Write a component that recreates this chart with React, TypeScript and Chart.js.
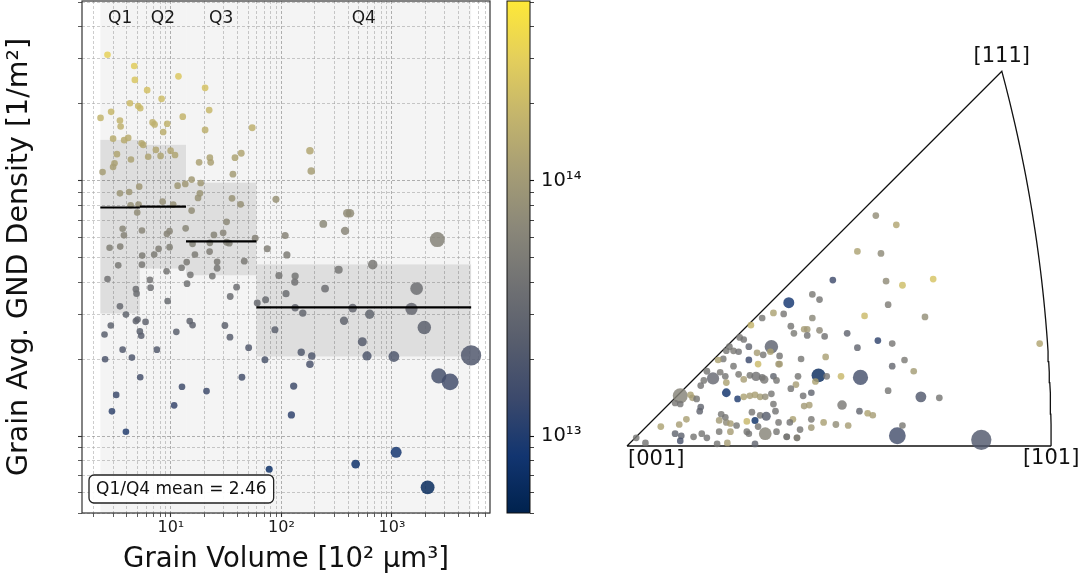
import React, { useEffect, useRef } from "react";
import { Chart, registerables } from "chart.js";

Chart.register(...registerables);

const FONT = "'DejaVu Sans', 'Liberation Sans', sans-serif";

// ---------------- data: grain volume (10^2 um^3) vs grain GND density (1/m^2) ----------------
const grainVolume = [
  2.67, 4.66, 4.72, 6.1, 8.24, 11.7, 20.4, 22.2, 20.4, 54.4,
  4.26, 5.06, 5.28, 2.31, 2.88, 3.46, 3.51, 6.83, 7.12, 9.26,
  8.52, 12.8, 3.0, 3.78, 4.11, 5.43, 5.62, 7.32, 9.94, 10.9,
  3.25, 4.35, 6.23, 8.07, 3.09, 3.0, 2.41, 18.0, 22.5, 22.9,
  38.0, 43.3, 36.4, 15.4, 18.6, 11.5, 13.5, 5.17, 3.46, 4.19,
  18.3, 17.6, 35.7, 42.7, 89.2, 4.32, 5.1, 8.41, 10.5, 4.96,
  15.4, 31.9, 3.66, 3.76, 5.47, 9.2, 9.73, 13.6, 24.5, 29.7,
  2.79, 3.48, 7.74, 9.73, 15.7, 22.5, 31.9, 33.7, 57.9, 74.4,
  46.1, 5.5, 7.06, 16.5, 22.4, 26.2, 26.2, 23.7, 15.0, 13.9,
  12.5, 9.14, 6.46, 4.82, 6.55, 14.0, 2.67, 3.34, 5.47, 39.3,
  181, 186, 394, 417, 239, 376, 108, 2570, 112, 669,
  329, 94.9, 133, 132, 248, 1670, 4.89, 9.34, 34.4, 60.4,
  71.9, 110, 133, 156, 441, 628, 368, 1500, 1960, 87.3,
  539, 151, 188, 594, 1040, 5190, 70.9, 181, 2650, 3350,
  129, 123, 1090, 469, 77.5, 2100, 3.46, 3.92, 4.82, 4.99,
  5.9, 2.86, 2.51, 5.24, 5.39, 11.2, 14.8, 15.7, 30.8, 34.2,
  3.66, 4.44, 7.47, 50.5, 2.54, 5.28, 12.6, 21.0, 43.9, 3.2,
  10.7, 2.93, 3.92,
];
const grainDensity = [
  3.11e14, 2.81e14, 2.48e14, 2.26e14, 2.09e14, 2.56e14, 2.31e14, 1.89e14, 1.58e14, 1.61e14,
  2.01e14, 1.96e14, 1.92e14, 1.76e14, 1.86e14, 1.72e14, 1.63e14, 1.69e14, 1.66e14, 1.67e14,
  1.55e14, 1.78e14, 1.46e14, 1.44e14, 1.47e14, 1.4e14, 1.38e14, 1.32e14, 1.31e14, 1.26e14,
  1.27e14, 1.21e14, 1.24e14, 1.25e14, 1.17e14, 1.13e14, 1.08e14, 1.18e14, 1.23e14, 1.18e14,
  1.23e14, 1.28e14, 1.06e14, 1.01e14, 9.79e13, 9.56e13, 9.71e13, 9.47e13, 8.92e13, 9.03e13,
  8.92e13, 8.56e13, 8.53e13, 8.08e13, 8.45e13, 8.01e13, 8.06e13, 8.28e13, 8.06e13, 7.5e13,
  7.64e13, 6.9e13, 6.48e13, 6.11e13, 6.38e13, 6.19e13, 6.34e13, 6.51e13, 6.13e13, 6.25e13,
  5.46e13, 5.52e13, 5.41e13, 5.49e13, 5.66e13, 5.71e13, 5.74e13, 5.69e13, 5.95e13, 5.41e13,
  4.84e13, 5.09e13, 5.14e13, 5.14e13, 5.28e13, 4.81e13, 4.54e13, 4.23e13, 4.28e13, 4.8e13,
  4.56e13, 4.42e13, 4.09e13, 3.76e13, 3.81e13, 3.95e13, 4.12e13, 4.66e13, 4.69e13, 3.83e13,
  1.31e14, 1.09e14, 7.45e13, 7.45e13, 6.77e13, 6.36e13, 6.1e13, 5.88e13, 5.12e13, 4.69e13,
  4.48e13, 4.25e13, 4.23e13, 4.01e13, 3.78e13, 3.78e13, 3.61e13, 3.38e13, 3.52e13, 3.32e13,
  3.42e13, 3.61e13, 3.18e13, 3.03e13, 3.17e13, 3.0e13, 2.83e13, 3.15e13, 2.66e13, 2.61e13,
  2.34e13, 2.13e13, 2.06e13, 2.06e13, 2.05e13, 2.07e13, 1.99e13, 1.91e13, 1.72e13, 1.63e13,
  1.57e13, 1.21e13, 8.64e12, 7.77e12, 7.41e12, 6.3e12, 3.22e13, 2.99e13, 2.82e13, 2.86e13,
  2.8e13, 2.71e13, 2.5e13, 2.57e13, 2.47e13, 2.56e13, 2.82e13, 2.72e13, 2.71e13, 2.44e13,
  2.18e13, 2.03e13, 2.18e13, 2.22e13, 2.0e13, 1.7e13, 1.56e13, 1.5e13, 1.7e13, 1.45e13,
  1.32e13, 1.25e13, 1.04e13,
];

// quartiles of grain volume
const quartileNames = ["Q1", "Q2", "Q3", "Q4"];
const quartileEdges = [2.3, 5.24, 13.7, 59.4, 5200];
const quartileMean = [7.85e13, 7.91e13, 5.78e13, 3.19e13];
const quartileLow = [3.02e13, 4.53e13, 4.26e13, 2.05e13];
const quartileHigh = [1.445e14, 1.382e14, 9.82e13, 4.7e13];

// axes
const volumeRange = [1.57, 7700];
const densityRange = [5e12, 5.05e14];
const volumeTickValues = [10, 100, 1000];
const volumeTickLabels = ["10¹", "10²", "10³"];
const colorbarTickValues = [1e13, 1e14];
const colorbarTickLabels = ["10¹³", "10¹⁴"];

// ---------------- inverse pole figure (stereographic coordinates) ----------------
const ipfX = [
  0.243, 0.263, 0.225, 0.248, 0.201, 0.253, 0.269, 0.299, 0.181, 0.188,
  0.158, 0.255, 0.232, 0.291, 0.181, 0.153, 0.16, 0.163, 0.173, 0.176,
  0.176, 0.188, 0.193, 0.215, 0.245, 0.259, 0.225, 0.403, 0.17, 0.194,
  0.271, 0.259, 0.28, 0.149, 0.167, 0.187, 0.195, 0.209, 0.228, 0.184,
  0.165, 0.16, 0.18, 0.172, 0.255, 0.287, 0.305, 0.21, 0.173, 0.178,
  0.227, 0.235, 0.24, 0.162, 0.18, 0.192, 0.204, 0.216, 0.159, 0.169,
  0.18, 0.264, 0.269, 0.346, 0.156, 0.166, 0.143, 0.132, 0.121, 0.11,
  0.114, 0.141, 0.14, 0.1, 0.104, 0.109, 0.119, 0.097, 0.127, 0.133,
  0.149, 0.094, 0.089, 0.119, 0.128, 0.148, 0.078, 0.084, 0.091, 0.096,
  0.104, 0.109, 0.114, 0.097, 0.12, 0.126, 0.132, 0.134, 0.143, 0.146,
  0.075, 0.072, 0.097, 0.108, 0.114, 0.12, 0.125, 0.13, 0.135, 0.141,
  0.052, 0.062, 0.064, 0.068, 0.047, 0.052, 0.072, 0.071, 0.092, 0.096,
  0.122, 0.13, 0.136, 0.143, 0.145, 0.058, 0.033, 0.051, 0.09, 0.097,
  0.101, 0.107, 0.117, 0.125, 0.128, 0.148, 0.047, 0.053, 0.052, 0.065,
  0.073, 0.078, 0.09, 0.101, 0.117, 0.119, 0.135, 0.146, 0.156, 0.166,
  0.009, 0.018, 0.088, 0.098, 0.125,
];
const ipfY = [
  0.225, 0.216, 0.19, 0.188, 0.162, 0.161, 0.157, 0.163, 0.148, 0.143,
  0.14, 0.138, 0.127, 0.126, 0.125, 0.129, 0.117, 0.11, 0.114, 0.114,
  0.108, 0.113, 0.107, 0.11, 0.103, 0.1, 0.096, 0.1, 0.085, 0.087,
  0.084, 0.078, 0.073, 0.08, 0.068, 0.069, 0.068, 0.068, 0.067, 0.063,
  0.06, 0.056, 0.052, 0.049, 0.054, 0.048, 0.047, 0.04, 0.039, 0.04,
  0.034, 0.032, 0.03, 0.026, 0.026, 0.023, 0.021, 0.02, 0.023, 0.016,
  0.018, 0.01, 0.02, 0.006, 0.009, 0.008, 0.13, 0.125, 0.118, 0.106,
  0.104, 0.097, 0.092, 0.097, 0.093, 0.092, 0.097, 0.093, 0.091, 0.089,
  0.088, 0.085, 0.084, 0.084, 0.08, 0.08, 0.073, 0.066, 0.072, 0.068,
  0.078, 0.07, 0.065, 0.062, 0.069, 0.068, 0.067, 0.065, 0.068, 0.064,
  0.064, 0.059, 0.052, 0.046, 0.048, 0.049, 0.05, 0.048, 0.048, 0.051,
  0.049, 0.05, 0.047, 0.046, 0.042, 0.041, 0.038, 0.034, 0.031, 0.028,
  0.033, 0.03, 0.029, 0.041, 0.034, 0.026, 0.019, 0.021, 0.025, 0.023,
  0.022, 0.02, 0.024, 0.025, 0.019, 0.023, 0.012, 0.01, 0.005, 0.009,
  0.012, 0.008, 0.014, 0.014, 0.014, 0.012, 0.012, 0.014, 0.009, 0.008,
  0.008, 0.003, 0.002, 0.003, 0.002,
];
const ipfDensity = [
  7.5e13, 1.3e14, 1.2e14, 7.0e13, 1.5e13, 7.2e13, 2.1e14, 2.4e14, 4.8e13, 4.3e13,
  8.6e12, 5.2e13, 2.0e14, 7.8e13, 6.5e13, 4.6e13, 4.4e13, 5.0e13, 1.1e14, 1.0e14,
  4.2e13, 6.8e13, 4.0e13, 2.8e13, 1.2e13, 4.6e13, 3.0e13, 1.3e14, 4.5e13, 1.15e14,
  4.9e13, 3.2e13, 1.05e14, 1.1e14, 4.4e13, 6.3e12, 4.6e13, 1.9e14, 1.72e13, 1.2e14,
  1.1e14, 4.3e13, 2.9e13, 4.1e13, 4.5e13, 2.05e13, 4.4e13, 4.69e13, 1.0e14, 1.1e14,
  3.0e13, 1.25e14, 1.1e14, 1.2e14, 4.7e13, 1.15e14, 7.4e13, 1.1e14, 4.2e13, 4.4e13,
  9.5e13, 1.63e13, 4.8e13, 2.07e13, 4.5e13, 1.0e14, 1.2e14, 4.5e13, 1.8e14, 4.6e13,
  4.2e13, 2.66e13, 1.2e14, 4.4e13, 4.8e13, 4.1e13, 3.0e13, 4.5e13, 1.1e14, 4.6e13,
  4.3e13, 4.5e13, 1.2e14, 1.4e13, 2.0e14, 1.0e14, 4.4e13, 3.15e13, 4.7e13, 4.3e13,
  4.5e13, 4.8e13, 1.1e14, 1.2e14, 4.4e13, 4.0e13, 4.2e13, 4.6e13, 2.9e13, 4.4e13,
  4.5e13, 4.2e13, 7.77e12, 1.0e13, 1.2e14, 1.1e14, 1.15e14, 1.05e14, 7.5e13, 4.5e13,
  5.88e13, 1.2e14, 1.1e14, 4.4e13, 4.6e13, 4.2e13, 3.0e13, 2.8e13, 4.5e13, 4.3e13,
  4.6e13, 4.4e13, 2.34e13, 4.5e13, 4.2e13, 1.15e14, 1.2e14, 1.1e14, 1.0e14, 7.0e13,
  1.1e14, 4.5e13, 1.9e14, 7.41e12, 4.4e13, 4.6e13, 2.9e13, 2.7e13, 1.8e13, 4.4e13,
  4.5e13, 4.2e13, 4.7e13, 1.1e14, 4.4e13, 4.3e13, 6.0e13, 4.5e13, 4.4e13, 4.6e13,
  4.5e13, 4.3e13, 4.5e13, 1.1e14, 3.0e13,
];
const ipfVolume = [
  8, 12, 5, 20, 15, 6, 30, 9, 4, 14,
  1090, 11, 6, 18, 14, 7, 25, 10, 5, 13,
  9, 12, 4, 22, 16, 6, 28, 9, 5, 15,
  7, 11, 6, 19, 13, 2100, 27, 8, 2650, 12,
  9, 13, 5, 21, 16, 1040, 29, 669, 4, 15,
  8, 12, 6, 20, 14, 7, 26, 9, 5, 13,
  8, 3350, 5, 5190, 15, 6, 31, 10, 4, 14,
  9, 1960, 5, 19, 16, 6, 28, 9, 5, 14,
  8, 12, 6, 21, 15, 7, 30, 1500, 4, 13,
  8, 11, 5, 20, 15, 628, 29, 400, 5, 14,
  9, 12, 469, 19, 14, 6, 30, 10, 4, 15,
  2570, 12, 5, 20, 16, 7, 27, 9, 5, 14,
  8, 13, 539, 20, 15, 6, 30, 9, 4, 13,
  9, 12, 5, 77.5, 15, 7, 28, 10, 5, 14,
  8, 11, 6, 20, 15, 6, 1670, 9, 4, 14,
  8, 12, 5, 20, 15,
];
const ipfCornerNames = ["[001]", "[101]", "[111]"];
const ipfCornerX = [0, 0.4142, 0.366];
const ipfCornerY = [0, 0, 0.366];
const ipfRangeX = [-0.02637, 0.44238];
const ipfRangeY = [-0.12598, 0.43555];

// ---------------- styling helpers ----------------
const CIVIDIS = ["#00224e", "#123570", "#3b496c", "#575d6d", "#707173", "#8a8779", "#a69d75", "#c4b56c", "#e4cf5b", "#fee838"];

function hexRgb(h: string): number[] {
  return [parseInt(h.slice(1, 3), 16), parseInt(h.slice(3, 5), 16), parseInt(h.slice(5, 7), 16)];
}
function cividis(t: number): number[] {
  const tt = Math.max(0, Math.min(1, t));
  const n = CIVIDIS.length - 1;
  const p = tt * n;
  const i = Math.min(Math.floor(p), n - 1);
  const f = p - i;
  const a = hexRgb(CIVIDIS[i]);
  const b = hexRgb(CIVIDIS[i + 1]);
  return [0, 1, 2].map((k) => Math.round(a[k] + (b[k] - a[k]) * f));
}
function densityColor(v: number, alpha: number): string {
  const lo = Math.log10(densityRange[0]);
  const hi = Math.log10(densityRange[1]);
  const [r, g, b] = cividis((Math.log10(v) - lo) / (hi - lo));
  return `rgba(${r},${g},${b},${alpha})`;
}
function markerRadius(volume: number): number {
  return Math.sqrt(11 + 0.0177 * volume);
}
function isDecade(v: number): boolean {
  const l = Math.log10(v);
  return Math.abs(l - Math.round(l)) < 1e-6;
}
function logGridValues(min: number, max: number): number[] {
  const out: number[] = [];
  for (let e = Math.floor(Math.log10(min)); e <= Math.ceil(Math.log10(max)); e++) {
    for (let m = 1; m <= 9; m++) {
      const v = m * Math.pow(10, e);
      if (v >= min * 0.9999 && v <= max * 1.0001) out.push(v);
    }
  }
  return out;
}
function labelFor(values: number[], labels: string[], v: number): string {
  const i = values.findIndex((m) => Math.abs(m - v) < 1e-6 * m);
  return i >= 0 ? labels[i] : "";
}
function ipfBoundary() {
  // [001] -> [101] -> great circle (1,t,1) -> [111] -> [001]
  const pts = [{ x: 0, y: 0 }];
  for (let i = 0; i <= 40; i++) {
    const t = i / 40;
    const n = Math.sqrt(2 + t * t);
    pts.push({ x: 1 / (n + 1), y: t / (n + 1) });
  }
  pts.push({ x: 0, y: 0 });
  return pts;
}
function noPadding(axis: any) {
  axis.paddingTop = 0;
  axis.paddingBottom = 0;
  axis.paddingLeft = 0;
  axis.paddingRight = 0;
}

const gridStyle = {
  color: (c: any) => (c.tick && isDecade(c.tick.value) ? "rgba(140,140,140,0.8)" : "rgba(165,165,165,0.7)"),
  lineWidth: 0.8,
  drawTicks: true,
  tickLength: 4,
  tickColor: "#333",
  tickWidth: (c: any) => (c.tick && isDecade(c.tick.value) ? 1.1 : 0.8),
  tickBorderDash: [],
};

// ---------------- charts ----------------
function makeScatter(canvas: HTMLCanvasElement): Chart {
  const boxes = {
    id: "quartileBoxes",
    beforeDatasetsDraw(chart: any) {
      const { ctx, chartArea, scales } = chart;
      const x = scales.x;
      const y = scales.y;
      ctx.save();
      ctx.beginPath();
      ctx.rect(chartArea.left, chartArea.top, chartArea.width, chartArea.height);
      ctx.clip();
      for (let i = 0; i < quartileNames.length; i++) {
        const x0 = x.getPixelForValue(quartileEdges[i]);
        const x1 = x.getPixelForValue(quartileEdges[i + 1]);
        ctx.fillStyle = "rgba(0,0,0,0.045)";
        ctx.fillRect(x0, chartArea.top, x1 - x0, chartArea.height);
        const y0 = y.getPixelForValue(quartileHigh[i]);
        const y1 = y.getPixelForValue(quartileLow[i]);
        ctx.fillStyle = "rgba(0,0,0,0.095)";
        ctx.fillRect(x0, y0, x1 - x0, y1 - y0);
      }
      ctx.restore();
    },
    afterDraw(chart: any) {
      const { ctx, chartArea, scales } = chart;
      const x = scales.x;
      ctx.save();
      ctx.font = `17px ${FONT}`;
      ctx.fillStyle = "#1a1a1a";
      ctx.textAlign = "center";
      ctx.textBaseline = "middle";
      for (let i = 0; i < quartileNames.length; i++) {
        const xc = x.getPixelForValue(Math.sqrt(quartileEdges[i] * quartileEdges[i + 1]));
        ctx.fillText(quartileNames[i], xc, chartArea.top + 18);
      }
      const text = `Q1/Q4 mean = ${(quartileMean[0] / quartileMean[3]).toFixed(2)}`;
      const tw = ctx.measureText(text).width;
      const bx = chartArea.left + 7;
      const by = chartArea.bottom - 38;
      const bw = tw + 14;
      const bh = 28;
      ctx.beginPath();
      if ((ctx as any).roundRect) (ctx as any).roundRect(bx, by, bw, bh, 5);
      else ctx.rect(bx, by, bw, bh);
      ctx.fillStyle = "rgba(255,255,255,0.92)";
      ctx.fill();
      ctx.lineWidth = 1.3;
      ctx.strokeStyle = "#222";
      ctx.stroke();
      ctx.fillStyle = "#111";
      ctx.textAlign = "left";
      ctx.fillText(text, bx + 7, by + bh / 2 + 1);
      ctx.lineWidth = 1.2;
      ctx.strokeStyle = "#333";
      ctx.strokeRect(chartArea.left, chartArea.top, chartArea.width, chartArea.height);
      ctx.restore();
    },
  };

  const meanLines = quartileNames.map((_, i) => ({
    type: "scatter" as const,
    data: [
      { x: quartileEdges[i], y: quartileMean[i] },
      { x: quartileEdges[i + 1], y: quartileMean[i] },
    ],
    showLine: true,
    borderColor: "#000",
    borderWidth: 2.2,
    pointRadius: 0,
    order: 0,
  }));

  return new Chart(canvas, {
    type: "scatter",
    data: {
      datasets: [
        ...meanLines,
        {
          data: grainVolume.map((v, i) => ({ x: v, y: grainDensity[i] })),
          pointRadius: (c: any) => markerRadius(grainVolume[c.dataIndex] ?? 1),
          pointHoverRadius: (c: any) => markerRadius(grainVolume[c.dataIndex] ?? 1),
          pointBackgroundColor: (c: any) => densityColor(grainDensity[c.dataIndex] ?? 1e13, 0.85),
          pointBorderWidth: 0,
          pointBorderColor: "rgba(0,0,0,0)",
          order: 1,
        },
      ] as any,
    },
    options: {
      responsive: false,
      animation: false,
      events: [],
      layout: { autoPadding: false, padding: { left: 0, right: 10, top: 1, bottom: 0 } },
      plugins: { legend: { display: false }, tooltip: { enabled: false } },
      scales: {
        x: {
          type: "logarithmic",
          position: "bottom",
          min: volumeRange[0],
          max: volumeRange[1],
          afterBuildTicks: (axis: any) => {
            axis.ticks = logGridValues(volumeRange[0], volumeRange[1]).map((v) => ({ value: v, major: isDecade(v) }));
          },
          afterFit: (axis: any) => {
            axis.height = 62;
            noPadding(axis);
          },
          ticks: {
            autoSkip: false,
            maxRotation: 0,
            minRotation: 0,
            padding: 1,
            color: "#1a1a1a",
            font: { size: 16, family: FONT },
            callback: (v: any) => labelFor(volumeTickValues, volumeTickLabels, Number(v)),
          },
          grid: gridStyle as any,
          border: { display: false, dash: [3, 2] },
          title: {
            display: true,
            text: "Grain Volume [10² μm³]",
            color: "#111",
            font: { size: 27.5, family: FONT, lineHeight: 1 },
            padding: { top: 0, bottom: 1 },
          },
        },
        y: {
          type: "logarithmic",
          position: "left",
          min: densityRange[0],
          max: densityRange[1],
          afterBuildTicks: (axis: any) => {
            axis.ticks = logGridValues(densityRange[0], densityRange[1]).map((v) => ({ value: v, major: isDecade(v) }));
          },
          afterFit: (axis: any) => {
            axis.width = 82;
            noPadding(axis);
          },
          ticks: { display: false, autoSkip: false, padding: 0 },
          grid: gridStyle as any,
          border: { display: false, dash: [3, 2] },
          title: {
            display: true,
            text: "Grain Avg. GND Density [1/m²]",
            color: "#111",
            font: { size: 28.5, family: FONT, lineHeight: 1 },
            padding: { top: 5, bottom: 0 },
          },
        },
      },
    } as any,
    plugins: [boxes],
  });
}

function makeColorbar(canvas: HTMLCanvasElement): Chart {
  const frame = {
    id: "cbarFrame",
    afterDraw(chart: any) {
      const { ctx, chartArea } = chart;
      ctx.save();
      ctx.lineWidth = 1;
      ctx.strokeStyle = "#111";
      ctx.strokeRect(chartArea.left, chartArea.top, chartArea.width, chartArea.height);
      ctx.restore();
    },
  };
  return new Chart(canvas, {
    type: "bar",
    data: {
      labels: [""],
      datasets: [
        {
          data: [[densityRange[0], densityRange[1]]],
          backgroundColor: (c: any) => {
            const area = c.chart.chartArea;
            if (!area) return "#777";
            const g = c.chart.ctx.createLinearGradient(0, area.bottom, 0, area.top);
            CIVIDIS.forEach((col, i) => g.addColorStop(i / (CIVIDIS.length - 1), col));
            return g;
          },
          borderWidth: 0,
          barPercentage: 1,
          categoryPercentage: 1,
        },
      ] as any,
    },
    options: {
      responsive: false,
      animation: false,
      events: [],
      layout: { autoPadding: false, padding: { left: 17, right: 0, top: 1, bottom: 62 } },
      plugins: { legend: { display: false }, tooltip: { enabled: false } },
      scales: {
        x: { display: false },
        y: {
          type: "logarithmic",
          position: "right",
          min: densityRange[0],
          max: densityRange[1],
          afterBuildTicks: (axis: any) => {
            axis.ticks = logGridValues(densityRange[0], densityRange[1]).map((v) => ({ value: v, major: isDecade(v) }));
          },
          afterFit: (axis: any) => {
            axis.width = 90;
            noPadding(axis);
          },
          ticks: {
            autoSkip: false,
            padding: 7,
            color: "#111",
            font: { size: 19.5, family: FONT },
            callback: (v: any) => labelFor(colorbarTickValues, colorbarTickLabels, Number(v)),
          },
          grid: {
            drawOnChartArea: false,
            drawTicks: true,
            tickLength: 4,
            tickColor: "#111",
            tickWidth: (c: any) => (c.tick && isDecade(c.tick.value) ? 1.1 : 0.8),
          },
          border: { display: false },
        },
      },
    } as any,
    plugins: [frame],
  });
}

function makeIpf(canvas: HTMLCanvasElement): Chart {
  const labelOffsets = [
    { align: "left" as CanvasTextAlign, dx: 1, dy: 14 },
    { align: "center" as CanvasTextAlign, dx: 0, dy: 13 },
    { align: "center" as CanvasTextAlign, dx: 0, dy: -15 },
  ];
  const corners = {
    id: "ipfCorners",
    afterDraw(chart: any) {
      const { ctx, scales } = chart;
      ctx.save();
      ctx.font = `21px ${FONT}`;
      ctx.fillStyle = "#111";
      ctx.textBaseline = "middle";
      ipfCornerNames.forEach((name, i) => {
        const px = scales.x.getPixelForValue(ipfCornerX[i]);
        const py = scales.y.getPixelForValue(ipfCornerY[i]);
        ctx.textAlign = labelOffsets[i].align;
        ctx.fillText(name, px + labelOffsets[i].dx, py + labelOffsets[i].dy);
      });
      ctx.restore();
    },
  };
  return new Chart(canvas, {
    type: "scatter",
    data: {
      datasets: [
        {
          data: ipfX.map((x, i) => ({ x, y: ipfY[i] })),
          pointRadius: (c: any) => markerRadius(ipfVolume[c.dataIndex] ?? 10),
          pointHoverRadius: (c: any) => markerRadius(ipfVolume[c.dataIndex] ?? 10),
          pointBackgroundColor: (c: any) => densityColor(ipfDensity[c.dataIndex] ?? 4e13, 0.82),
          pointBorderWidth: 0,
          pointBorderColor: "rgba(0,0,0,0)",
          order: 0,
        },
        {
          data: ipfBoundary(),
          showLine: true,
          borderColor: "#111",
          borderWidth: 1.3,
          pointRadius: 0,
          order: 1,
        },
      ] as any,
    },
    options: {
      responsive: false,
      animation: false,
      events: [],
      layout: { autoPadding: false, padding: 0 },
      plugins: { legend: { display: false }, tooltip: { enabled: false } },
      scales: {
        x: { type: "linear", min: ipfRangeX[0], max: ipfRangeX[1], display: false },
        y: { type: "linear", min: ipfRangeY[0], max: ipfRangeY[1], display: false },
      },
    } as any,
    plugins: [corners],
  });
}

export default function App() {
  const leftRef = useRef<HTMLCanvasElement>(null);
  const cbRef = useRef<HTMLCanvasElement>(null);
  const ipfRef = useRef<HTMLCanvasElement>(null);

  useEffect(() => {
    Chart.defaults.font.family = FONT;
    const charts: Chart[] = [];
    if (leftRef.current) charts.push(makeScatter(leftRef.current));
    if (cbRef.current) charts.push(makeColorbar(cbRef.current));
    if (ipfRef.current) charts.push(makeIpf(ipfRef.current));
    return () => charts.forEach((c) => c.destroy());
  }, []);

  return (
    <div style={{ position: "fixed", left: 0, top: 0, width: 1080, height: 575, background: "#fff", overflow: "hidden" }}>
      <canvas ref={leftRef} width={500} height={575} style={{ position: "absolute", left: 0, top: 0, width: 500, height: 575 }} />
      <canvas ref={cbRef} width={130} height={575} style={{ position: "absolute", left: 490, top: 0, width: 130, height: 575 }} />
      <canvas ref={ipfRef} width={480} height={575} style={{ position: "absolute", left: 600, top: 0, width: 480, height: 575 }} />
    </div>
  );
}
